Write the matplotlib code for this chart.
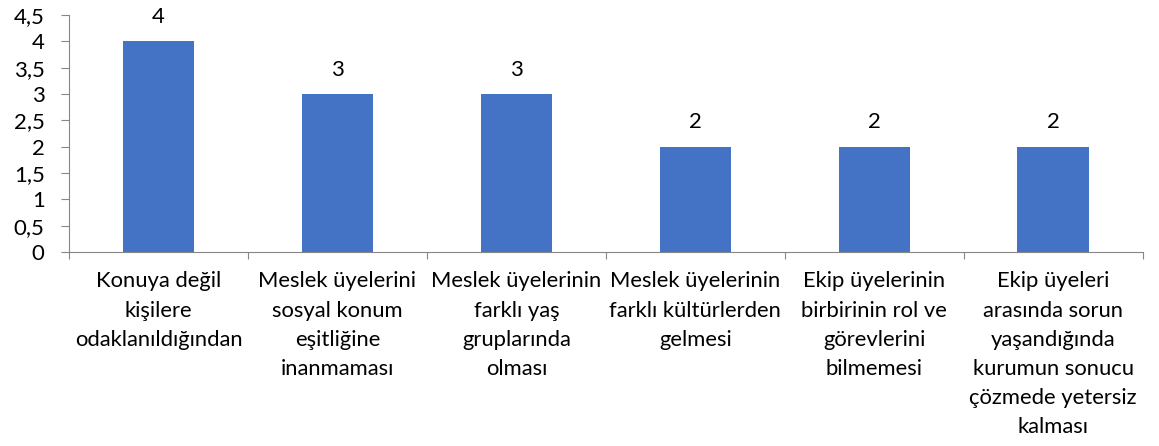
import matplotlib.pyplot as plt
import numpy as np

plt.rcParams['font.family'] = ['Lato', 'DejaVu Sans']

categories = [
    'Konuya değil\nkişilere\nodaklanıldığından',
    'Meslek üyelerini\nsosyal konum\neşitliğine\ninanmaması',
    'Meslek üyelerinin\nfarklı yaş\ngruplarında\nolması',
    'Meslek üyelerinin\nfarklı kültürlerden\ngelmesi',
    'Ekip üyelerinin\nbirbirinin rol ve\ngörevlerini\nbilmemesi',
    'Ekip üyeleri\narasında sorun\nyaşandığında\nkurumun sonucu\nçözmede yetersiz\nkalması',
]
values = [4, 3, 3, 2, 2, 2]
yticks = [0, 0.5, 1, 1.5, 2, 2.5, 3, 3.5, 4, 4.5]

fig = plt.figure(figsize=(11.59, 4.46), dpi=100)
ax = fig.add_axes([0.0595, 0.435, 0.9265, 0.531])

x = np.arange(len(values))
ax.bar(x, values, width=0.4, color='#4472C4')
for xi, v in zip(x, values):
    ax.text(xi, v + 0.35, str(v), ha='center', va='baseline', fontsize=16)

ax.set_xlim(-0.5, len(values) - 0.5)
ax.set_ylim(0, 4.5)
ax.set_yticks(yticks)
ax.set_yticklabels([('%g' % t).replace('.', ',') for t in yticks], fontsize=16)

ax.set_xticks(np.arange(len(values) + 1) - 0.5)
ax.set_xticklabels([])
ax.set_xticks(x, minor=True)
ax.set_xticklabels(categories, minor=True, fontsize=15.8, linespacing=1.57)
ax.tick_params(axis='x', which='minor', length=0, pad=14)
ax.tick_params(axis='x', which='major', length=5, color='#868686')
ax.tick_params(axis='y', length=5.5, color='#868686', pad=12)

for s in ['top', 'right']:
    ax.spines[s].set_visible(False)
for s in ['left', 'bottom']:
    ax.spines[s].set_color('#868686')

fig.savefig('out.png', dpi=100)
